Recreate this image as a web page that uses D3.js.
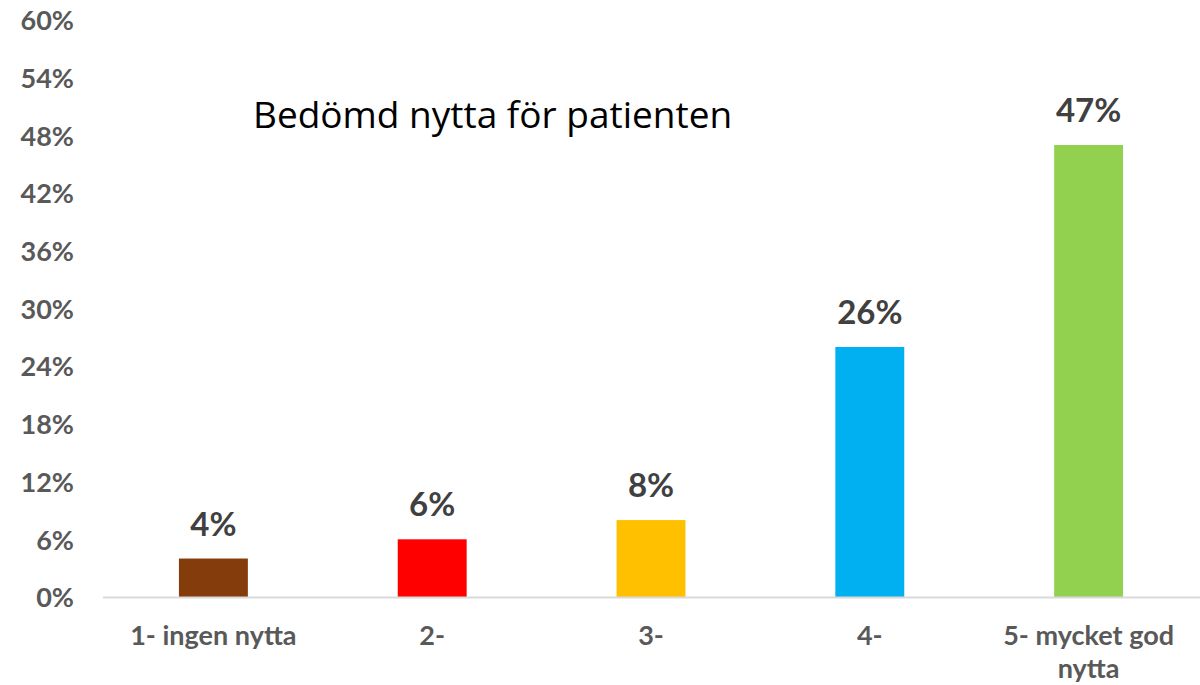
<!DOCTYPE html>
<html>
<head>
<meta charset="utf-8">
<script src="https://cdn.jsdelivr.net/npm/d3@7"></script>
<style>
  body { margin: 0; background: #fff; }
  svg text { font-family: Lato, "Open Sans", sans-serif; }
</style>
</head>
<body>
<svg id="chart" width="1200" height="685"></svg>
<script>
// chart data
var categories = ["1- ingen nytta", "2-", "3-", "4-", "5- mycket god nytta"];
var values = [4, 6, 8, 26, 47];
var barColors = ["#843C0C", "#FF0000", "#FFC000", "#00B0F0", "#92D050"];
var yTicks = [0, 6, 12, 18, 24, 30, 36, 42, 48, 54, 60];
var chartTitle = "Bedömd nytta för patienten";

function drawChart() {
    var svg = d3.select("#chart"),
        x = d3.scaleBand().domain(categories).range([104, 1198])
            .paddingInner(0.685).paddingOuter(0.3425),
        y = d3.scaleLinear().domain([0, 60]).range([597, 20]);

    // y tick labels, no axis line
    var yAxis = d3.axisLeft(y).tickValues(yTicks)
        .tickFormat(function (d) { return d + "%"; })
        .tickSize(0).tickPadding(0);
    var yg = svg.append("g").attr("transform", "translate(74,0)").call(yAxis);
    yg.select(".domain").remove();
    yg.selectAll("text")
        .attr("fill", "#595959")
        .style("font-size", "27px")
        .style("font-weight", "bold")
        .style("font-family", "Lato, sans-serif")
        .attr("dy", "0.36em");

    // bars
    svg.selectAll("rect.bar")
        .data(values)
        .enter()
        .append("rect")
        .attr("class", "bar")
        .attr("x", function (d, i) { return x(categories[i]); })
        .attr("y", function (d) { return y(d); })
        .attr("width", x.bandwidth())
        .attr("height", function (d) { return y(0) - y(d); })
        .attr("fill", function (d, i) { return barColors[i]; });

    // baseline
    svg.append("line")
        .attr("x1", 103).attr("x2", 1200)
        .attr("y1", y(0) + 0.5).attr("y2", y(0) + 0.5)
        .attr("stroke", "#d9d9d9").attr("stroke-width", 2);

    // value labels
    svg.selectAll("text.val")
        .data(values)
        .enter()
        .append("text")
        .attr("class", "val")
        .attr("x", function (d, i) { return x(categories[i]) + x.bandwidth() / 2; })
        .attr("y", function (d) { return y(d) - 23; })
        .attr("text-anchor", "middle")
        .attr("fill", "#404040")
        .style("font-size", "33px")
        .style("font-weight", "bold")
        .text(function (d) { return d + "%"; });

    // category labels, long one wraps
    var catLabels = svg.selectAll("text.cat")
        .data(categories)
        .enter()
        .append("text")
        .attr("class", "cat")
        .attr("text-anchor", "middle")
        .attr("fill", "#595959")
        .style("font-size", "27px")
        .style("font-weight", "bold");
    catLabels.each(function (d) {
        var t = d3.select(this),
            cx = x(d) + x.bandwidth() / 2,
            lines = d === "5- mycket god nytta" ? ["5- mycket god", "nytta"] : [d];
        lines.forEach(function (ln, k) {
            t.append("tspan").attr("x", cx).attr("y", 645 + k * 33).text(ln);
        });
    });

    // title inside plot
    svg.append("text")
        .attr("x", 253).attr("y", 128)
        .attr("fill", "#000")
        .style("font-family", "'Open Sans', sans-serif")
        .style("font-size", "37px")
        .text(chartTitle);
}

drawChart();
</script>
</body>
</html>
